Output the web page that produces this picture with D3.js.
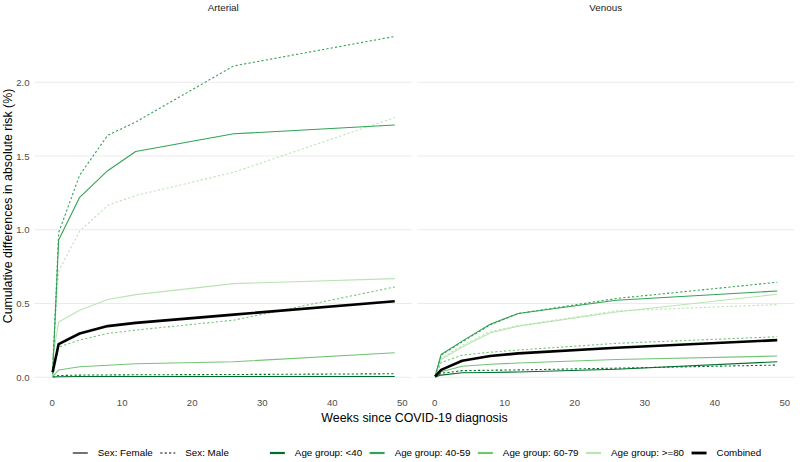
<!DOCTYPE html>
<html><head><meta charset="utf-8">
<script src="https://cdn.jsdelivr.net/npm/d3@7"></script>
<style>body{margin:0;background:#fff}svg{display:block;font-family:"Liberation Sans",Arial,sans-serif}</style>
</head><body><svg id="c" width="800" height="462"></svg>
<script>
// ---- data ----
const weeks = [0.14, 1, 4, 8, 12, 26, 49];
const panels = ["Arterial", "Venous"];
const ageGroups = ["<40", "40-59", "60-79", ">=80"];
const sexes = ["Female", "Male"];
const yTicks = [0.0, 0.5, 1.0, 1.5, 2.0];
const xTicks = [0, 10, 20, 30, 40, 50];

// Arterial
const art_u40_F   = [0.002, 0.004, 0.005, 0.005, 0.005, 0.005, 0.005];
const art_u40_M   = [0.003, 0.012, 0.015, 0.016, 0.017, 0.019, 0.024];
const art_40_59_F = [0.02, 0.93, 1.22, 1.40, 1.53, 1.65, 1.71];
const art_40_59_M = [0.03, 0.98, 1.37, 1.64, 1.73, 2.11, 2.31];
const art_60_79_F = [0.005, 0.05, 0.072, 0.082, 0.092, 0.105, 0.166];
const art_60_79_M = [0.01, 0.205, 0.252, 0.297, 0.32, 0.387, 0.612];
const art_80_F    = [0.13, 0.375, 0.455, 0.527, 0.56, 0.635, 0.669];
const art_80_M    = [0.12, 0.72, 0.99, 1.165, 1.232, 1.389, 1.76];
const art_comb    = [0.034, 0.225, 0.297, 0.347, 0.369, 0.425, 0.515];
// Venous
const ven_u40_F   = [0.003, 0.015, 0.031, 0.033, 0.036, 0.055, 0.105];
const ven_u40_M   = [0.004, 0.027, 0.045, 0.048, 0.05, 0.062, 0.083];
const ven_40_59_F = [0.01, 0.155, 0.245, 0.36, 0.432, 0.522, 0.585];
const ven_40_59_M = [0.01, 0.15, 0.24, 0.355, 0.432, 0.534, 0.644];
const ven_60_79_F = [0.005, 0.038, 0.075, 0.088, 0.097, 0.121, 0.144];
const ven_60_79_M = [0.008, 0.1, 0.15, 0.17, 0.185, 0.23, 0.275];
const ven_80_F    = [0.008, 0.12, 0.205, 0.3, 0.347, 0.443, 0.563];
const ven_80_M    = [0.008, 0.13, 0.215, 0.31, 0.35, 0.45, 0.493];
const ven_comb    = [0.005, 0.05, 0.112, 0.144, 0.162, 0.2, 0.252];

const ageColors = ["#006d2c", "#31a354", "#74c476", "#bae4b3"];
const combColor = "#000000";

const series = [
  {panel:"Arterial", age:"<40", sex:"Female", v:art_u40_F},
  {panel:"Arterial", age:"<40", sex:"Male", v:art_u40_M},
  {panel:"Arterial", age:"60-79", sex:"Female", v:art_60_79_F},
  {panel:"Arterial", age:"60-79", sex:"Male", v:art_60_79_M},
  {panel:"Arterial", age:">=80", sex:"Female", v:art_80_F},
  {panel:"Arterial", age:">=80", sex:"Male", v:art_80_M},
  {panel:"Arterial", age:"40-59", sex:"Female", v:art_40_59_F},
  {panel:"Arterial", age:"40-59", sex:"Male", v:art_40_59_M},
  {panel:"Arterial", age:"Combined", sex:"Female", v:art_comb},
  {panel:"Venous", age:"<40", sex:"Female", v:ven_u40_F},
  {panel:"Venous", age:"<40", sex:"Male", v:ven_u40_M},
  {panel:"Venous", age:"60-79", sex:"Female", v:ven_60_79_F},
  {panel:"Venous", age:"60-79", sex:"Male", v:ven_60_79_M},
  {panel:"Venous", age:">=80", sex:"Female", v:ven_80_F},
  {panel:"Venous", age:">=80", sex:"Male", v:ven_80_M},
  {panel:"Venous", age:"40-59", sex:"Female", v:ven_40_59_F},
  {panel:"Venous", age:"40-59", sex:"Male", v:ven_40_59_M},
  {panel:"Venous", age:"Combined", sex:"Female", v:ven_comb}
];

// ---- layout ----
const svg = d3.select("#c");
const panelBottom = 394.4;
const panelX = {Arterial:[34.5, 411.9], Venous:[417, 794.4]};
const y = d3.scaleLinear().domain([0, 2.317]).range([377.3, 35.4]);
const color = d3.scaleOrdinal().domain(ageGroups.concat(["Combined"])).range(ageColors.concat([combColor]));
const dashOf = s => s === "Male" ? "2.2,2.2" : null;

panels.forEach((p, pi) => {
  const [x0, x1] = panelX[p];
  const x = d3.scaleLinear().domain([0, 49]).range([x0 + 17.15, x1 - 17.15]);
  const g = svg.append("g");
  g.selectAll("line.grid").data(yTicks).enter().append("line")
    .attr("x1", x0).attr("x2", x1).attr("y1", d => y(d)).attr("y2", d => y(d))
    .attr("stroke", "#ebebeb").attr("stroke-width", 1.1);
  g.append("text").attr("x", (x0 + x1) / 2).attr("y", 11).attr("text-anchor", "middle")
    .attr("font-size", 9.8).attr("fill", "#1a1a1a").text(p);
  const xa = g.append("g").attr("transform", `translate(0,${panelBottom})`)
    .call(d3.axisBottom(x).tickValues(xTicks).tickSize(0).tickPadding(5).tickFormat(d3.format("d")));
  xa.select(".domain").remove();
  xa.selectAll("text").attr("font-size", 9.6).attr("fill", "#4d4d4d").attr("font-family", null);
  if (pi === 0) {
    const ya = g.append("g").attr("transform", `translate(${x0},0)`)
      .call(d3.axisLeft(y).tickValues(yTicks).tickSize(0).tickPadding(5).tickFormat(d3.format(".1f")));
    ya.select(".domain").remove();
    ya.selectAll("text").attr("font-size", 9.6).attr("fill", "#4d4d4d").attr("font-family", null);
  }
  const line = d3.line().x((d, i) => x(weeks[i])).y(d => y(d));
  g.selectAll("path.s").data(series.filter(s => s.panel === p)).enter().append("path")
    .attr("d", s => line(s.v)).attr("fill", "none")
    .attr("stroke", s => color(s.age))
    .attr("stroke-width", s => s.age === "Combined" ? 2.6 : 1.1)
    .attr("stroke-dasharray", s => s.age === "Combined" ? null : dashOf(s.sex))
    .attr("stroke-linejoin", "round");
});

svg.append("text").attr("x", 414.5).attr("y", 421.5).attr("text-anchor", "middle")
  .attr("font-size", 12.4).attr("fill", "#000").text("Weeks since COVID-19 diagnosis");
svg.append("text").attr("transform", "translate(12,206) rotate(-90)").attr("text-anchor", "middle")
  .attr("font-size", 12.4).attr("fill", "#000").text("Cumulative differences in absolute risk (%)");

const legItems = [
  {label:"Sex: Female", stroke:"#000", w:1.1, dash:null, group:0},
  {label:"Sex: Male", stroke:"#000", w:1.1, dash:"2.2,2.2", group:0},
  ...ageGroups.map(a => ({label:"Age group: " + a, stroke:color(a), w:2.2, dash:null, group:1})),
  {label:"Combined", stroke:combColor, w:2.8, dash:null, group:1}
];
const leg = svg.append("g");
let cx = 0, prevGroup = 0;
const ly = 453;
legItems.forEach((it, i) => {
  if (i > 0) cx += (it.group !== prevGroup) ? 41 : 7.5;
  prevGroup = it.group;
  leg.append("line").attr("x1", cx).attr("x2", cx + 15).attr("y1", ly).attr("y2", ly)
    .attr("stroke", it.stroke).attr("stroke-width", it.w).attr("stroke-dasharray", it.dash);
  cx += 15 + 10;
  const t = leg.append("text").attr("x", cx).attr("y", ly + 3.4).attr("font-size", 9.8)
    .attr("fill", "#000").text(it.label);
  cx += t.node().getComputedTextLength();
});
leg.attr("transform", `translate(${417 - cx / 2},0)`);
</script></body></html>
